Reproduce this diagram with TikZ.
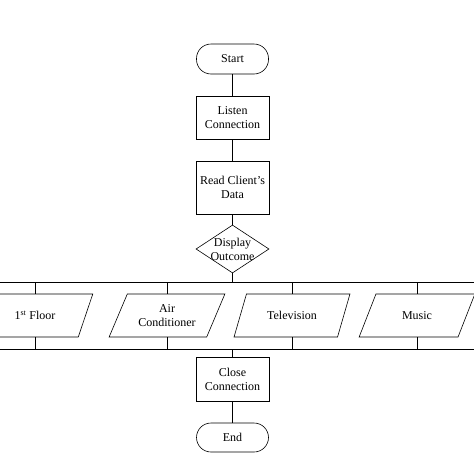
\documentclass[tikz,border=0pt]{standalone}
\usepackage{fontspec}
\setmainfont{Liberation Serif}
\usepackage{tikz}
\tikzset{
every picture/.style={line width=0.6pt},
chartfont/.style={font=\fontsize{12}{14}\selectfont},
terminal/.style={draw, rectangle, rounded corners=14.5pt, minimum width=72pt, chartfont},
process/.style={draw, rectangle, minimum width=73pt, align=center, chartfont},
decision/.style={draw, diamond, minimum width=73pt, minimum height=48pt, inner sep=0pt},
inout/.style={draw, trapezium, trapezium left angle=63, trapezium right angle=117,
  trapezium stretches=true, minimum width=116pt, minimum height=43pt, align=center, chartfont}
}
\usetikzlibrary{shapes.geometric}

\begin{document}
\begin{tikzpicture}[x=1pt, y=-1pt]
      \path[use as bounding box] (0,0) rectangle (474,474);
      \clip (0,0) rectangle (474,474);
      \node[terminal, minimum height=30pt] (start) at (232.5,59) {Start};
      \node[process, minimum height=43pt] (listen) at (232.5,117.5) {Listen\\Connection};
      \node[process, minimum height=53pt] (read) at (232.5,187.5) {Read Client’s\\Data};
      \node[decision] (disp) at (232.5,249) {};
      \node[align=center, chartfont] (disptext) at (232.5,249) {Display\\Outcome};
      \coordinate (busTL) at (0,282);
      \coordinate (busTR) at (474,282);
      \coordinate (busBL) at (0,349);
      \coordinate (busBR) at (474,349);
      \draw (busTL) -- (busTR);
      \draw (busBL) -- (busBR);
      \foreach \px/\nm/\txt in {35/floor/{1\textsuperscript{st} Floor}, 167/air/{Air\\Conditioner},
        292/tv/Television, 417/music/Music} {
        \node[inout] (\nm) at (\px,315.5) {\txt};
        \draw (\nm.north) -- (\nm.north |- busTL);
        \draw (\nm.south) -- (\nm.south |- busBL);
      }
      \node[process, minimum height=44pt] (close) at (232.5,379) {Close\\Connection};
      \node[terminal, minimum height=29pt] (end) at (232.5,437.5) {End};
      \draw (start) -- (listen);
      \draw (listen) -- (read);
      \draw (read) -- (disp);
      \draw (disp.south) -- (disp.south |- busTL);
      \draw (close.north |- busBL) -- (close);
      \draw (close) -- (end);
    \end{tikzpicture}
\end{document}
